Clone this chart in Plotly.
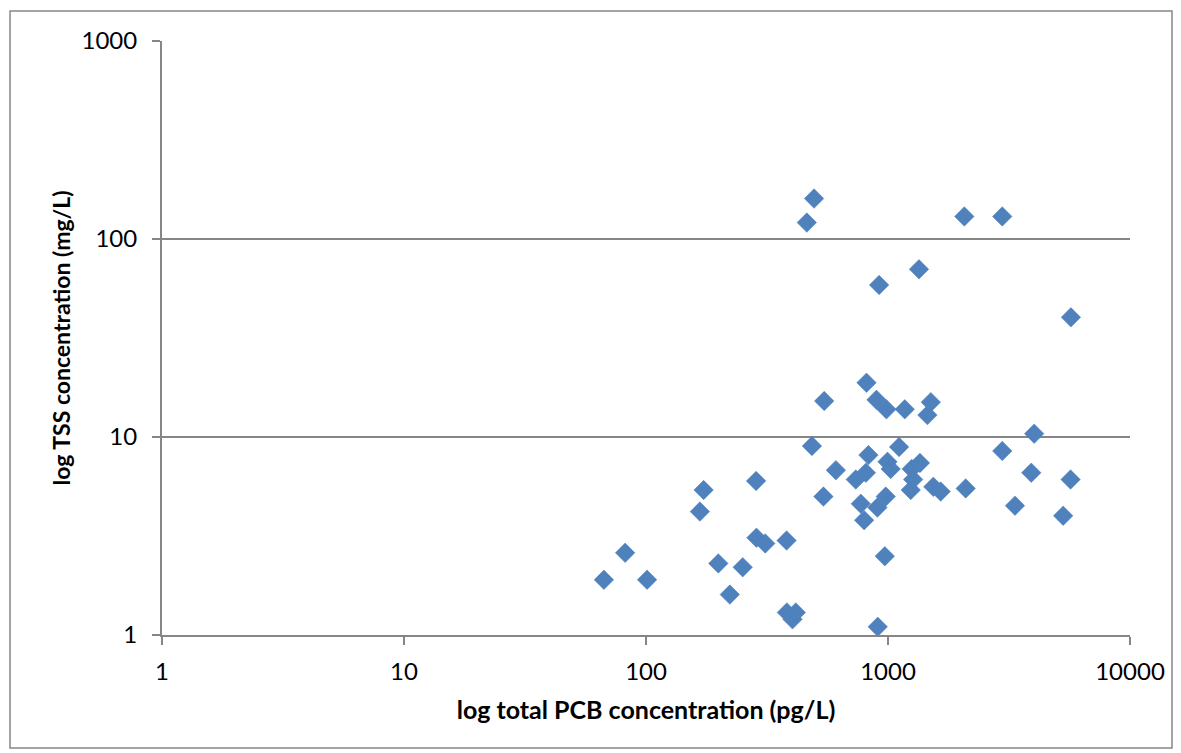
import plotly.graph_objects as go

pcb = [67, 82, 101, 167, 173, 199, 222, 251, 285, 286, 311, 381, 382, 403, 416,
       462, 495, 485, 541, 545, 609, 736, 772, 797, 810, 815, 830, 896, 904, 907,
       919, 970, 979, 985, 995, 1026, 1111, 1173, 1242, 1253, 1270, 1343, 1355,
       1455, 1503, 1539, 1651, 2067, 2094, 2966, 2966, 3347, 3909, 4018, 5294,
       5680, 5700]
tss = [1.9, 2.6, 1.9, 4.2, 5.4, 2.3, 1.6, 2.2, 6.0, 3.1, 2.9, 3.0, 1.3, 1.2, 1.3,
       121, 160, 9.0, 5.0, 15.2, 6.8, 6.1, 4.6, 3.8, 6.6, 18.8, 8.1, 15.4, 4.4, 1.1,
       58.6, 2.5, 5.0, 13.8, 7.5, 6.9, 8.9, 13.8, 5.4, 6.9, 6.1, 70.3, 7.4,
       12.9, 15.0, 5.6, 5.3, 130, 5.5, 130, 8.5, 4.5, 6.6, 10.4, 4.0,
       6.1, 40.2]

x_ticks = [1, 10, 100, 1000, 10000]
y_ticks = [1, 10, 100, 1000]

fig = go.Figure()
fig.add_trace(go.Scatter(
    x=pcb, y=tss, mode="markers",
    marker=dict(symbol="diamond", size=15, color="#4F81BD",
                line=dict(color="#4A7EBB", width=0.5)),
    showlegend=False, cliponaxis=False))

font = "Lato, sans-serif"
fig.update_layout(
    width=1173, height=745,
    margin=dict(l=154, r=51, t=33, b=118),
    paper_bgcolor="white", plot_bgcolor="white",
    font=dict(family=font, size=24, color="black"),
    xaxis=dict(type="log", range=[0, 4], tickvals=x_ticks,
               ticktext=[str(v) for v in x_ticks],
               showgrid=False, zeroline=False,
               showline=True, linecolor="#868686", linewidth=2,
               ticks="outside", ticklen=8, tickcolor="#868686", tickwidth=2,
               ticklabelstandoff=6,
               tickfont=dict(family=font, size=24),
               title=dict(text="<b>log total PCB concentration (pg/L)</b>",
                          font=dict(family=font, size=25), standoff=18)),
    yaxis=dict(type="log", range=[0, 3], tickvals=y_ticks,
               ticktext=[str(v) for v in y_ticks],
               showgrid=True, gridcolor="#868686", gridwidth=2,
               zeroline=False,
               showline=True, linecolor="#868686", linewidth=2,
               ticks="outside", ticklen=8, tickcolor="#868686", tickwidth=2,
               ticklabelstandoff=10,
               tickfont=dict(family=font, size=24),
               title=dict(text="<b>log TSS concentration (mg/L)</b>",
                          font=dict(family=font, size=23), standoff=4)),
)

# outer chart border
fig.add_shape(type="rect", xref="paper", yref="paper",
              x0=(2 - 154) / 968, x1=(1164 - 154) / 968,
              y0=(627 - 740) / 594, y1=(627 - 3) / 594,
              line=dict(color="#868686", width=1.5), layer="below")

fig.write_html("out.html")
